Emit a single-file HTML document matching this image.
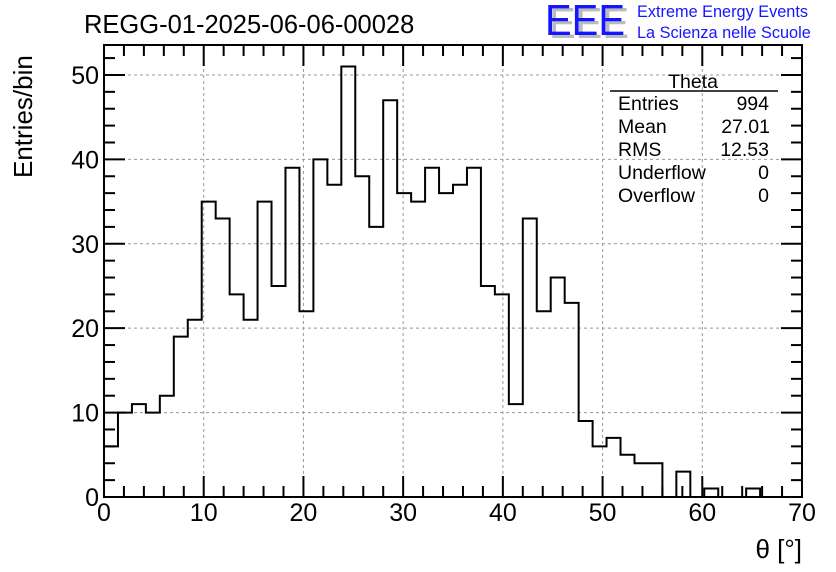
<!DOCTYPE html>
<html><head><meta charset="utf-8"><style>
html,body{margin:0;padding:0;background:#fff;}
svg{display:block;font-family:"Liberation Sans",Arial,sans-serif;}
</style></head><body>
<svg id="chart" width="836" height="572" viewBox="0 0 836 572" xmlns="http://www.w3.org/2000/svg">
<rect width="836" height="572" fill="#fff"/>
<text x="84" y="33" font-size="25.5" fill="#000">REGG-01-2025-06-06-00028</text>
<g>
<text x="549" y="38" font-size="44" fill="#bbb" textLength="80" lengthAdjust="spacingAndGlyphs">EEE</text>
<text x="545" y="35" font-size="44" fill="#1515ff" textLength="80" lengthAdjust="spacingAndGlyphs">EEE</text>
<text x="637" y="17" font-size="16.3" fill="#1515ff">Extreme Energy Events</text>
<text x="637" y="38" font-size="16.3" fill="#1515ff">La Scienza nelle Scuole</text>
</g>
<text transform="translate(32,178) rotate(-90)" font-size="26" fill="#000">Entries/bin</text>
<text x="802" y="558" text-anchor="end" font-size="26" fill="#000">θ [°]</text>
<g id="grid"></g>
<g id="ticks"></g>
<path id="hist" fill="none" stroke="#000" stroke-width="2"/>
<rect x="104" y="45" width="698" height="452" fill="none" stroke="#000" stroke-width="2"/>
<g font-size="19.5" fill="#000">
<text x="693" y="88" text-anchor="middle">Theta</text>
<line x1="610" y1="91" x2="778" y2="91" stroke="#000" stroke-width="1.5"/>
<text x="618" y="110">Entries</text><text x="769" y="110" text-anchor="end">994</text>
<text x="618" y="133">Mean</text><text x="770" y="133" text-anchor="end">27.01</text>
<text x="618" y="156">RMS</text><text x="769" y="156" text-anchor="end">12.53</text>
<text x="618" y="179">Underflow</text><text x="769" y="179" text-anchor="end">0</text>
<text x="618" y="202">Overflow</text><text x="769" y="202" text-anchor="end">0</text>
</g>
</svg>
<script>
const counts = [6,10,11,10,12,19,21,35,33,24,21,35,25,39,22,40,37,51,38,32,47,36,35,39,36,37,39,25,24,11,33,22,26,23,9,6,7,5,4,4,0,3,0,1,0,0,1,0,0,0];
const binLow = 0;
const binWidth = 1.4;
const xTickLabels = ["0","10","20","30","40","50","60","70"];
const yTickLabels = ["0","10","20","30","40","50"];

const NS = "http://www.w3.org/2000/svg";
const X0=104, X1=802, Y0=497, Y1=45, XMAX=70, YMAX=53.55;
function sx(v){return X0+(v-0)/XMAX*(X1-X0);}
function sy(v){return Y0-v/YMAX*(Y0-Y1);}
function mk(tag,attrs,parent){const e=document.createElementNS(NS,tag);for(const k in attrs)e.setAttribute(k,attrs[k]);parent.appendChild(e);return e;}
const grid=document.getElementById('grid'), ticks=document.getElementById('ticks');




xTickLabels.forEach(l=>{
  const v=+l, x=sx(v);
  if(v>0&&v<XMAX){const g=mk('line',{x1:x,x2:x,y1:Y1,y2:Y0,stroke:'#999','stroke-width':1,'stroke-dasharray':'3,3'},grid);
  
  }
  const t=mk('text',{x:x,y:521,'text-anchor':'middle','font-size':25,fill:'#000'},ticks);t.textContent=l;
  
  
});
for(let v=0;v<=XMAX;v+=2){const x=sx(v);const len=(v%10===0)?21:11;
  mk('line',{x1:x,x2:x,y1:Y0,y2:Y0-len,stroke:'#000','stroke-width':2},ticks);
  mk('line',{x1:x,x2:x,y1:Y1,y2:Y1+len,stroke:'#000','stroke-width':2},ticks);}
yTickLabels.forEach(l=>{
  const v=+l, y=sy(v);
  if(v>0){const g=mk('line',{x1:X0,x2:X1,y1:y,y2:y,stroke:'#999','stroke-width':1,'stroke-dasharray':'3,3'},grid);
  
  }
  const t=mk('text',{x:99,y:y+9,'text-anchor':'end','font-size':25,fill:'#000'},ticks);t.textContent=l;
  
  
});
for(let v=0;v<=52;v+=2){const y=sy(v);const len=(v%10===0)?21:11;
  mk('line',{x1:X0,x2:X0+len,y1:y,y2:y,stroke:'#000','stroke-width':2},ticks);
  mk('line',{x1:X1,x2:X1-len,y1:y,y2:y,stroke:'#000','stroke-width':2},ticks);}
let d='M'+sx(binLow)+','+sy(0);
counts.forEach((c,i)=>{const a=sx(binLow+i*binWidth),b=sx(binLow+(i+1)*binWidth);d+=' L'+a+','+sy(c)+' L'+b+','+sy(c);});
d+=' L'+sx(binLow+counts.length*binWidth)+','+sy(0);
document.getElementById('hist').setAttribute('d',d);
</script>
</body></html>
